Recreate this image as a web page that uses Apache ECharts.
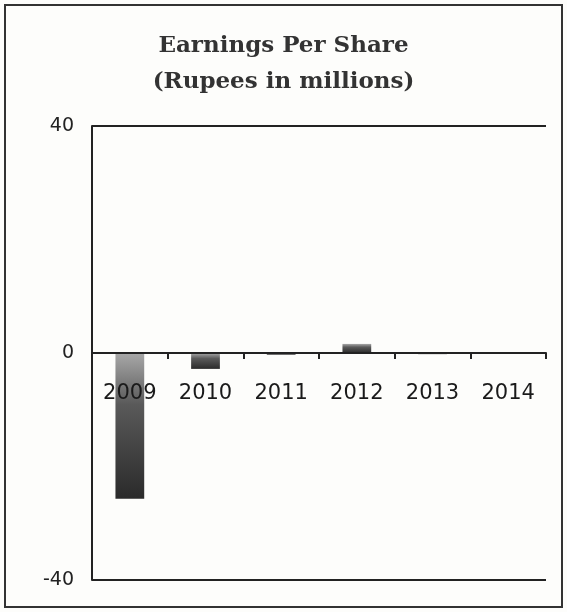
<!DOCTYPE html>
<html>
<head>
<meta charset="utf-8">
<script src="https://cdn.jsdelivr.net/npm/echarts@6/dist/echarts.min.js"></script>
<style>
  html, body { margin: 0; padding: 0; background: #fff; }
  #chart { width: 567px; height: 612px; }
</style>
</head>
<body>
<div id="chart"></div>
<script>
// data
var years = ["2009", "2010", "2011", "2012", "2013", "2014"];
var eps = [-25.7, -2.8, -0.3, 1.6, -0.2, 0];
var yTicks = [-40, 0, 40];

var chart = echarts.init(document.getElementById("chart"));

var barColor = new echarts.graphic.LinearGradient(0, 0, 0, 1, [
  { offset: 0, color: "#a8a8a8" },
  { offset: 0.35, color: "#5a5a5a" },
  { offset: 1, color: "#2a2a2a" }
]);

var option = {
  backgroundColor: "#fdfdfb",
  animation: false,
  title: {
    text: "Earnings Per Share\n(Rupees in millions)",
    left: "center",
    top: 23,
    textStyle: {
      fontFamily: "DejaVu Serif",
      fontWeight: "bold",
      fontSize: 23,
      lineHeight: 36,
      color: "#333"
    }
  },
  // frame round the whole chart
  graphic: [{
    type: "rect",
    shape: { x: 5, y: 5, width: 557, height: 602 },
    style: { fill: "none", stroke: "#333", lineWidth: 2 }
  }],
  grid: { left: 92, right: 21, top: 126, bottom: 32, outerBoundsMode: "none", containLabel: false },
  xAxis: {
    type: "category",
    data: years,
    z: 10,
    axisLine: { onZero: true, lineStyle: { color: "#222", width: 2 } },
    axisTick: { show: true, inside: false, length: 6, lineStyle: { color: "#222", width: 2 } },
    axisLabel: {
      // labels sit just under the zero line, not at the bottom of the grid
      margin: -197,
      fontFamily: "DejaVu Sans",
      fontSize: 21,
      color: "#1a1a1a"
    }
  },
  yAxis: {
    type: "value",
    min: yTicks[0],
    max: yTicks[yTicks.length - 1],
    interval: 40,
    axisLine: { show: true, lineStyle: { color: "#222", width: 2 } },
    axisTick: { show: false },
    splitLine: { show: true, lineStyle: { color: "#222", width: 2 } },
    axisLabel: {
      margin: 18,
      fontFamily: "DejaVu Sans",
      fontSize: 19,
      color: "#222"
    }
  },
  series: [{
    type: "bar",
    data: eps,
    barWidth: "38%",
    itemStyle: { color: barColor }
  }]
};

chart.setOption(option);
</script>
</body>
</html>
